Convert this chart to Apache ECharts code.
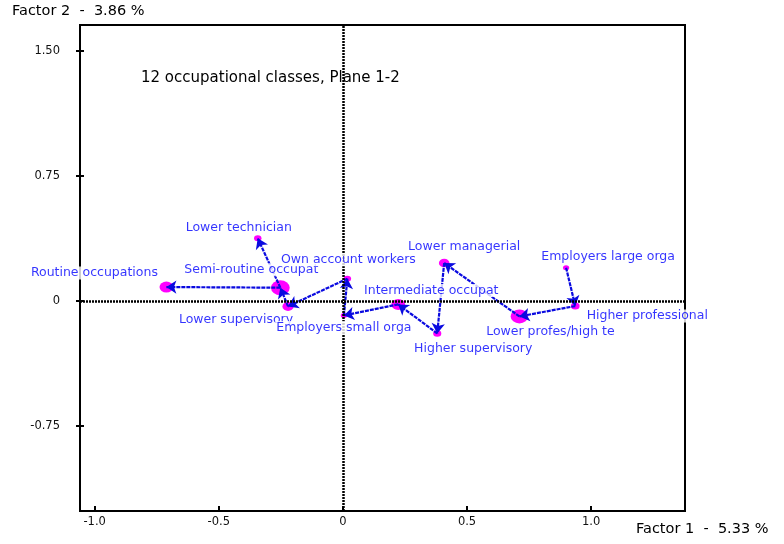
<!DOCTYPE html>
<html>
<head>
<meta charset="utf-8">
<script src="https://cdn.jsdelivr.net/npm/echarts@6/dist/echarts.min.js"></script>
<style>
 html,body{margin:0;padding:0;background:#fff;}
 #plane{width:784px;height:544px;}
</style>
</head>
<body>
<div id="plane"></div>
<script>
 //数据
 var classes = ['Routine occupations','Semi-routine occupat','Lower technician','Lower supervisory',
	'Own account workers','Employers small orga','Intermediate occupat','Higher supervisory',
	'Lower managerial','Lower profes/high te','Higher professional','Employers large orga'];
 var factor1 = [-0.711,-0.252,-0.343,-0.221,0.018,0.004,0.223,0.380,0.408,0.711,0.936,0.899];
 var factor2 = [0.084,0.080,0.376,-0.032,0.134,-0.086,-0.020,-0.194,0.228,-0.092,-0.030,0.200];
 var mass = [11,15,6,9,6,5,11,6.5,8.5,14,7,5];        //点的相对权重
 var edges = [[11,10],[10,9],[9,8],[8,7],[7,6],[6,5],[5,4],[4,3],[3,1],[1,0],[1,2]];   //箭头 from -> to
 var xTicks = [-1,-0.5,0,0.5,1];
 var xTickLabels = ['-1.0','-0.5','0','0.5','1.0'];
 var yTicks = [-0.75,0,0.75,1.5];
 var yTickLabels = ['-0.75','0','0.75','1.50'];

 //标签偏移(像素)
 var labelOffsets = [[-72,-14],[-29,-18],[-19,-11],[-52,13],[1,-19],[0,12],
	[33,-14],[36,15],[20,-16],[31,15],[72,10],[42,-11]];

 var myChart = null;
 function drawPlane(){
	myChart = echarts.init(document.getElementById('plane'));
	var pts = [];
	var lbls = [];
	for(var i=0;i<classes.length;i++){
		pts.push({name:classes[i], value:[factor1[i],factor2[i]],
			symbolSize:[mass[i]*1.25, mass[i]]});
		lbls.push({name:classes[i], value:[factor1[i],factor2[i]],
			label:{offset:labelOffsets[i]}});
	}
	var arrows = [];
	for(var j=0;j<edges.length;j++){
		var a = edges[j][0], b = edges[j][1];
		arrows.push({coords:[[factor1[a],factor2[a]],[factor1[b],factor2[b]]]});
	}
	var font = 'DejaVu Sans';
	var option = {
		animation:false,
		title:{
			text:'12 occupational classes, Plane 1-2',
			left:136, top:66,
			textStyle:{color:'#000', fontSize:15, fontWeight:'normal', fontFamily:font}
		},
		graphic:[
			{type:'text', left:12, top:4, style:{text:'Factor 2  -  3.86 %', fill:'#000', font:'14.5px "DejaVu Sans"'}},
			{type:'text', left:636, top:522, style:{text:'Factor 1  -  5.33 %', fill:'#000', font:'14.5px "DejaVu Sans"'}}
		],
		grid:{
			left:80, right:99, top:25, bottom:33,
			show:true, borderColor:'#000', borderWidth:2, backgroundColor:'transparent'
		},
		xAxis:{
			type:'value', min:-1.059, max:1.378,
			axisLine:{show:false, onZero:false},
			splitLine:{show:false},
			axisTick:{show:true, inside:true, length:5, customValues:xTicks,
				lineStyle:{color:'#000', width:2}},
			axisLabel:{customValues:xTicks, margin:5, color:'#111', fontSize:11.5, fontFamily:font,
				formatter:function(v){ return xTickLabels[xTicks.indexOf(v)]; }}
		},
		yAxis:[
			{
				type:'value', min:-1.258, max:1.654, position:'left',
				axisLine:{show:false, onZero:false},
				splitLine:{show:false},
				axisTick:{show:true, inside:false, length:4, customValues:yTicks,
					lineStyle:{color:'#000', width:2}},
				axisLabel:{customValues:yTicks, margin:20, color:'#111', fontSize:11.5, fontFamily:font,
					formatter:function(v){ return yTickLabels[yTicks.indexOf(v)]; }}
			},
			{
				type:'value', min:-1.258, max:1.654, position:'left', offset:0,
				axisLine:{show:false, onZero:false},
				splitLine:{show:false},
				axisTick:{show:true, inside:true, length:4, customValues:yTicks,
					lineStyle:{color:'#000', width:2}},
				axisLabel:{show:false}
			}
		],
		series:[
			{	//零线
				type:'scatter', z:1, data:[], silent:true,
				markLine:{
					silent:true, symbol:['none','none'], animation:false,
					label:{show:false},
					lineStyle:{color:'#000', width:2.5, type:[2,1]},
					data:[{xAxis:0},{yAxis:0}]
				}
			},
			{	//点
				type:'scatter', z:2, data:pts, silent:true,
				itemStyle:{color:'#ff00ff', opacity:1}
			},
			{	//箭头
				type:'lines', coordinateSystem:'cartesian2d', z:3, silent:true,
				polyline:false,
				symbol:['none','arrow'], symbolSize:10,
				lineStyle:{color:'#0a0ae0', width:2.2, type:[4,1], opacity:1},
				data:arrows
			},
			{	//标签
				type:'scatter', z:5, data:lbls, silent:true,
				symbolSize:1,
				itemStyle:{color:'transparent'},
				label:{
					show:true, position:'inside',
					formatter:'{b}',
					color:'#0000ff', fontSize:12.5, fontFamily:font,
					backgroundColor:'#fff', padding:[0,1]
				}
			}
		]
	};
	myChart.setOption(option,true);
	window.addEventListener("resize", function () {
		myChart.resize();
	});
 }
 drawPlane();
</script>
</body>
</html>
